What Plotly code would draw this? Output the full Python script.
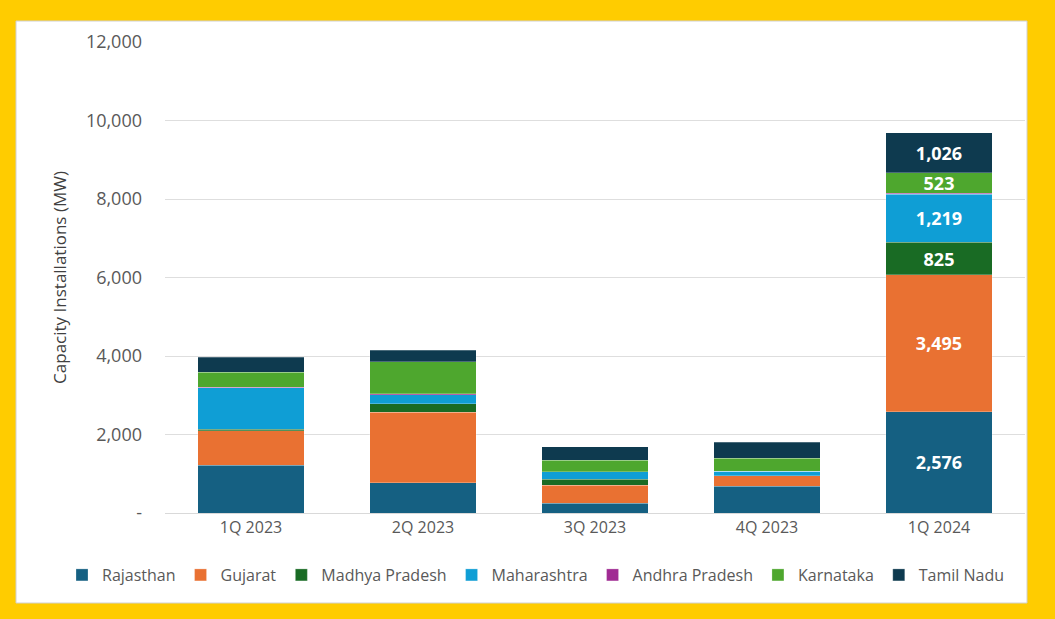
import plotly.graph_objects as go

quarters = ["1Q 2023", "2Q 2023", "3Q 2023", "4Q 2023", "1Q 2024"]

states = ["Rajasthan", "Gujarat", "Madhya Pradesh", "Maharashtra",
          "Andhra Pradesh", "Karnataka", "Tamil Nadu"]
colors = ["#156082", "#E97132", "#196B24", "#0F9ED5", "#A02B93", "#4EA72E", "#0E3A4F"]

rajasthan = [1217, 773, 247, 688, 2576]
gujarat = [874, 1800, 466, 255, 3495]
madhya_pradesh = [40, 212, 145, 10, 825]
maharashtra = [1065, 229, 195, 110, 1219]
andhra_pradesh = [10, 25, 0, 0, 26]
karnataka = [382, 817, 297, 330, 523]
tamil_nadu = [382, 290, 340, 408, 1026]

series = [rajasthan, gujarat, madhya_pradesh, maharashtra,
          andhra_pradesh, karnataka, tamil_nadu]

# only the latest quarter carries data labels (Andhra Pradesh too thin for one)
labelled = [True, True, True, True, False, True, True]

y_ticks = [0, 2000, 4000, 6000, 8000, 10000, 12000]
y_ticktext = ["-", "2,000", "4,000", "6,000", "8,000", "10,000", "12,000"]

FONT = "Open Sans"

fig = go.Figure()
for name, vals, c, lab in zip(states, series, colors, labelled):
    text = ["" for _ in vals[:-1]] + ([f"{vals[-1]:,}"] if lab else [""])
    fig.add_trace(go.Bar(
        x=quarters, y=vals, name=name,
        marker=dict(color=c, line=dict(color="rgba(255,255,255,0.5)", width=0.5)),
        text=text, textposition="inside", insidetextanchor="middle",
        textangle=0, constraintext="none",
        textfont=dict(family=FONT, size=18, color="white", weight="bold"),
        hoverinfo="x+y+name"))

W, H = 1055, 619
L, R, T, B = 165, 30, 42, 106
pw, ph = W - L - R, H - T - B

def px_x(x):
    return (x - L) / pw

def px_y(y):
    return (H - B - y) / ph

# white card on the yellow background
fig.add_shape(type="rect", xref="paper", yref="paper",
              x0=px_x(16), x1=px_x(1027), y0=px_y(603), y1=px_y(21),
              fillcolor="white", line=dict(color="#d0d0d0", width=1), layer="below")

fig.update_layout(
    width=W, height=H,
    barmode="stack", bargap=0.38,
    paper_bgcolor="#FFCC00", plot_bgcolor="white",
    margin=dict(l=L, r=R, t=T, b=B, autoexpand=False),
    font=dict(family=FONT, color="#595959", size=14),
    uniformtext=dict(minsize=18, mode="show"),
    # anchored left of the plot area so the single row may use the full width
    legend=dict(orientation="h", x=px_x(62), xanchor="left",
                y=px_y(575), yanchor="middle",
                font=dict(size=16, color="#595959"), traceorder="normal",
                itemwidth=30, bgcolor="rgba(0,0,0,0)"),
    showlegend=True,
)
fig.update_xaxes(showline=True, linecolor="#d9d9d9", linewidth=1,
                 tickfont=dict(size=16, color="#595959"), ticks="", showgrid=False)
fig.update_yaxes(range=[0, 12000], tickvals=y_ticks, ticktext=y_ticktext,
                 showgrid=True, gridcolor="#dedede", gridwidth=1, zeroline=False,
                 tickfont=dict(size=18, color="#595959"), ticklabelstandoff=22,
                 title=dict(text="Capacity Installations (MW)",
                            font=dict(size=17, color="#404040"), standoff=14))

fig.write_html("out.html", config={"displayModeBar": False},
               post_script="document.body.style.margin='0';")
